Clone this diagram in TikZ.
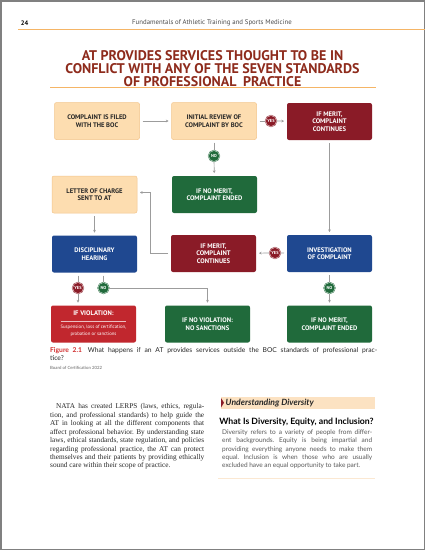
\documentclass[tikz,border=0pt]{standalone}
\usepackage{fontspec}
\setmainfont{Liberation Serif}
\setsansfont{PT Sans}
\newfontfamily\sidefont{Lato}
\usetikzlibrary{arrows.meta}

\definecolor{boxcream}{HTML}{FDDDB0}
\definecolor{creamline}{HTML}{F3C58C}
\definecolor{meritred}{HTML}{8A1B27}
\definecolor{endgreen}{HTML}{206A3B}
\definecolor{stepblue}{HTML}{1F4890}
\definecolor{violred}{HTML}{C1272E}
\definecolor{titlered}{HTML}{8E2B1C}
\definecolor{figred}{HTML}{D12E2E}
\definecolor{rulecolor}{HTML}{F5B566}
\definecolor{arrowgray}{HTML}{9C9C9C}
\definecolor{sideband}{HTML}{FCE2C2}
\definecolor{sideline}{HTML}{FBE8D2}

\newcommand\violsmall{\mdseries\fontsize{4.8}{5.8}\selectfont}

\begin{document}
\frenchspacing
\begin{tikzpicture}[x=1pt,y=-1pt,
    box/.style={minimum width=85pt, minimum height=37pt, rounded corners=2pt,
      align=center, inner sep=1pt, outer sep=3pt,
      font=\sffamily\bfseries\fontsize{6.6}{7.5}\selectfont},
    creambox/.style={box, fill=boxcream, draw=creamline, line width=0.5pt, text=black!85},
    redbox/.style={box, fill=meritred, text=white},
    greenbox/.style={box, fill=endgreen, text=white},
    bluebox/.style={box, fill=stepblue, text=white},
    violbox/.style={box, fill=violred, text=white},
    badge/.style={circle, minimum size=11pt, inner sep=0pt, line width=0.35pt,
      double distance=0.5pt, text=white, font=\sffamily\bfseries\fontsize{4.4}{5}\selectfont},
    yes/.style={badge, fill=meritred, draw=meritred, double=white!75!meritred},
    no/.style={badge, fill=endgreen, draw=endgreen, double=white!75!endgreen},
    link/.style={draw=arrowgray, line width=0.7pt},
    flow/.style={link, -{Stealth[length=2.6pt,width=2.8pt]}}]

  \fill[white] (0,0) rectangle (425,550);
  \useasboundingbox (0,0) rectangle (425,550);
  \draw[gray, line width=1.5pt] (0.75,0.75) rectangle (424.25,549.25);

  % running head
  \node (pagenum) at (24.5,23) [font=\sffamily\bfseries\fontsize{6.5}{8}\selectfont] {24};
  \node (runhead) at (212,23) [font=\sffamily\fontsize{6.8}{8}\selectfont, text=black!70]
    {Fundamentals of Athletic Training and Sports Medicine};
  \draw[rulecolor, line width=0.6pt] (18,29.5) -- (425,29.5);

  \node (title) at (212.5,68.5) [align=center, text=titlered,
    font=\sffamily\bfseries\fontsize{14}{13.4}\selectfont]
    {AT PROVIDES SERVICES THOUGHT TO BE IN\\
     CONFLICT WITH ANY OF THE SEVEN STANDARDS\\
     OF PROFESSIONAL\hspace{3pt} PRACTICE};
  \draw[rulecolor, line width=1.6pt] (50,87.5) -- (376,87.5);

  % flow chart
  \node (filed)      at (97,121)      [creambox] {COMPLAINT IS FILED\\WITH THE BOC};
  \node (review)     at (214,121)     [creambox] {INITIAL REVIEW OF\\COMPLAINT BY BOC};
  \node (merit)      at (329.5,121.5) [redbox]   {IF MERIT,\\COMPLAINT\\CONTINUES};
  \node (ended)      at (214.5,194.5) [greenbox] {IF NO MERIT,\\COMPLAINT ENDED};
  \node (letter)     at (94.5,194.5)  [creambox] {LETTER OF CHARGE\\SENT TO AT};
  \node (hearing)    at (94.5,254)    [bluebox]  {DISCIPLINARY\\HEARING};
  \node (meritB)     at (213.5,253.5) [redbox]   {IF MERIT,\\COMPLAINT\\CONTINUES};
  \node (invest)     at (329.5,253.5) [bluebox]  {INVESTIGATION\\OF COMPLAINT};
  \node (violation)  at (93.5,324)    [violbox]
    {IF VIOLATION:\\[-2pt]
     \textcolor{white!70!violred}{\rule{66pt}{0.4pt}}\\[-0.5pt]
     \violsmall Suspension, loss of certification,\\ \violsmall probation or sanctions};
  \node (nosanction) at (207.5,324)   [greenbox] {IF NO VIOLATION:\\NO SANCTIONS};
  \node (endedB)     at (329.5,324)   [greenbox] {IF NO MERIT,\\COMPLAINT ENDED};

  \node (yesA) at (271,121) [yes] {YES};
  \node (noA)  at (214,156) [no]  {NO};
  \node (yesB) at (275,253) [yes] {YES};
  \node (yesC) at (78,288)  [yes] {YES};
  \node (noC)  at (103.5,288) [no] {NO};
  \node (noD)  at (329.5,288) [no] {NO};

  \draw[flow] (filed) -- (review);
  \draw[link] (review) -- (yesA);
  \draw[flow] (yesA) -- (merit);
  \draw[link] (review) -- (noA);
  \draw[flow] (noA) -- (ended);
  \draw[flow] (merit) -- (invest);
  \draw[link] (invest) -- (yesB);
  \draw[flow] (yesB) -- (meritB);
  \coordinate (bend) at (150,192.5);
  \draw[flow] (meritB.west) -| (bend) -- (letter.east |- bend);
  \draw[flow] (letter) -- (hearing);
  \draw[link] (hearing.south -| yesC) -- (yesC);
  \draw[flow] (yesC) -- (violation.north -| yesC);
  \draw[link] (hearing.south -| noC) -- (noC);
  \draw[flow] (noC) -| (nosanction);
  \draw[link] (invest) -- (noD);
  \draw[flow] (noD) -- (endedB);

  % caption
  \node (caption) at (50,347.5) [anchor=north west, text width=327pt, align=justify,
    inner sep=0pt, font=\sidefont\fontsize{6.7}{8.2}\selectfont, text=black!85]
    {\textcolor{figred}{\bfseries Figure 2.1}\hspace{6pt}What happens if an AT provides
     services outside the BOC standards of professional prac-\linebreak tice?\\
     \fontsize{4.3}{8.8}\selectfont\color{black!60}Board of Certification 2022};

  % body text
  \node (body) at (50,403.5) [anchor=north west, text width=154pt, align=justify,
    inner sep=0pt, font=\rmfamily\fontsize{7.3}{8.45}\selectfont, text=black!85]
    {\hspace*{6pt}NATA has created LERPS (laws, ethics, regula-\linebreak
     tion, and professional standards) to help guide the\linebreak
     AT in looking at all the different components that\linebreak
     affect professional behavior. By understanding state\linebreak
     laws, ethical standards, state regulation, and policies\linebreak
     regarding professional practice, the AT can protect\linebreak
     themselves and their patients by providing ethically\linebreak
     sound care within their scope of practice.};

  % sidebar
  \fill[sideband] (221,397) rectangle (375,408.5);
  \fill[meritred] (221,398) -- (224,402.7) -- (221,407.5) -- cycle;
  \node (sidehead) at (225.5,402.7) [anchor=west, inner sep=0pt, text=black!85,
    font=\sidefont\bfseries\itshape\fontsize{8.6}{9}\selectfont] {Understanding Diversity};
  \node (question) at (296.5,422) [inner sep=0pt,
    font=\sidefont\bfseries\fontsize{8.7}{9}\selectfont] {What Is Diversity, Equity, and Inclusion?};
  \node (sidetext) at (222,429.5) [anchor=north west, text width=150pt, align=justify,
    inner sep=0pt, font=\sidefont\fontsize{6.5}{8.3}\selectfont, text=black!65]
    {Diversity refers to a variety of people from differ-\linebreak
     ent backgrounds. Equity is being impartial and\linebreak
     providing everything anyone needs to make them\linebreak
     equal. Inclusion is when those who are usually\linebreak
     excluded have an equal opportunity to take part.};
  \draw[sideline, line width=0.8pt] (218,478) -- (375,478);
\end{tikzpicture}
\end{document}
